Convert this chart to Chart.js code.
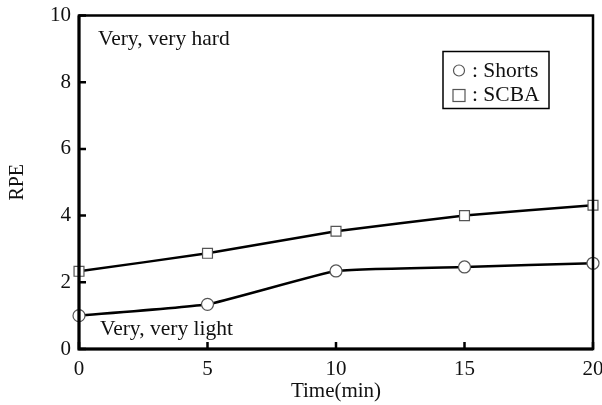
<!DOCTYPE html>
<html>
<head>
<meta charset="utf-8">
<script src="https://cdn.jsdelivr.net/npm/chart.js@4/dist/chart.umd.min.js"></script>
<style>
html,body{margin:0;padding:0;background:#fff;}
#wrap{width:602px;height:405px;}
</style>
</head>
<body>
<div id="wrap"><canvas id="c" width="602" height="405"></canvas></div>
<script>
const timeMin = [0, 5, 10, 15, 20];
const shortsRPE = [1.0, 1.34, 2.34, 2.46, 2.57];
const scbaRPE = [2.33, 2.87, 3.53, 4.0, 4.31];
const xTicks = [0, 5, 10, 15, 20];
const yTicks = [0, 2, 4, 6, 8, 10];
const seriesNames = ['Shorts', 'SCBA'];
const annotHigh = 'Very, very hard';
const annotLow = 'Very, very light';

const FONT = '"Liberation Serif", "Times New Roman", serif';

const framePlugin = {
  id: 'frame',
  afterDraw(chart) {
    const ctx = chart.ctx;
    const a = chart.chartArea;
    const xs = chart.scales.x, ys = chart.scales.y;
    ctx.save();
    ctx.strokeStyle = '#000';
    ctx.lineWidth = 2.5;
    ctx.strokeRect(a.left, a.top, a.right - a.left, a.bottom - a.top);
    ctx.lineWidth = 3;
    ctx.beginPath();
    ctx.moveTo(a.left, a.top); ctx.lineTo(a.left, a.bottom); ctx.lineTo(a.right, a.bottom);
    ctx.stroke();
    ctx.lineWidth = 2.5;
    ctx.beginPath();
    xTicks.forEach(v => { const px = xs.getPixelForValue(v); ctx.moveTo(px, a.bottom); ctx.lineTo(px, a.bottom - 7); });
    yTicks.forEach(v => { const py = ys.getPixelForValue(v); ctx.moveTo(a.left, py); ctx.lineTo(a.left + 7, py); });
    ctx.stroke();

    // annotations
    ctx.fillStyle = '#111';
    ctx.font = '21.5px ' + FONT;
    ctx.textBaseline = 'alphabetic';
    ctx.textAlign = 'left';
    ctx.fillText(annotHigh, a.left + 19, a.top + 29);
    ctx.fillText(annotLow, a.left + 21, a.bottom - 14);

    // legend box
    const lx = a.left + 364, ly = a.top + 36, lw = 106, lh = 57;
    ctx.lineWidth = 1.5;
    ctx.strokeRect(lx, ly, lw, lh);
    ctx.strokeStyle = '#555';
    ctx.lineWidth = 1.2;
    ctx.beginPath();
    ctx.arc(lx + 16, ly + 19, 5.5, 0, Math.PI * 2);
    ctx.stroke();
    ctx.strokeRect(lx + 10, ly + 38, 12, 12);
    ctx.fillStyle = '#111';
    ctx.fillText(': ' + seriesNames[0], lx + 29, ly + 25);
    ctx.fillText(': ' + seriesNames[1], lx + 29, ly + 49);
    ctx.restore();
  }
};

new Chart(document.getElementById('c'), {
  type: 'line',
  data: {
    datasets: [
      {
        label: seriesNames[0],
        data: timeMin.map((t, i) => ({x: t, y: shortsRPE[i]})),
        borderColor: '#000', borderWidth: 2.5, tension: 0.12,
        pointStyle: 'circle', pointRadius: 6, pointBorderColor: '#555',
        pointBackgroundColor: '#fff', pointBorderWidth: 1.2, clip: false
      },
      {
        label: seriesNames[1],
        data: timeMin.map((t, i) => ({x: t, y: scbaRPE[i]})),
        borderColor: '#000', borderWidth: 2.5, tension: 0.12,
        pointStyle: 'rect', pointRadius: 7, pointBorderColor: '#555',
        pointBackgroundColor: '#fff', pointBorderWidth: 1.2, clip: false
      }
    ]
  },
  options: {
    responsive: false,
    animation: false,
    events: [],
    layout: {padding: {top: 15.5, right: 9, left: 0, bottom: 0}},
    plugins: {legend: {display: false}, tooltip: {enabled: false}},
    scales: {
      x: {
        type: 'linear', min: 0, max: 20,
        afterBuildTicks: s => { s.ticks = xTicks.map(v => ({value: v})); },
        afterFit: s => { s.height = 56; s.paddingLeft = 0; s.paddingRight = 0; },
        grid: {display: false, drawTicks: false},
        border: {display: false},
        ticks: {color: '#111', padding: 8, font: {family: FONT, size: 21}},
        title: {display: true, text: 'Time(min)', color: '#111', padding: {top: 0, bottom: 1}, font: {family: FONT, size: 21}}
      },
      y: {
        min: 0, max: 10,
        afterBuildTicks: s => { s.ticks = yTicks.map(v => ({value: v})); },
        afterFit: s => { s.width = 79; s.paddingTop = 0; s.paddingBottom = 0; },
        grid: {display: false, drawTicks: false},
        border: {display: false},
        ticks: {color: '#111', padding: 8, font: {family: FONT, size: 21}},
        title: {display: true, text: 'RPE', color: '#111', padding: {top: 6, bottom: 0}, font: {family: FONT, size: 20}}
      }
    }
  },
  plugins: [framePlugin]
});
</script>
</body>
</html>
